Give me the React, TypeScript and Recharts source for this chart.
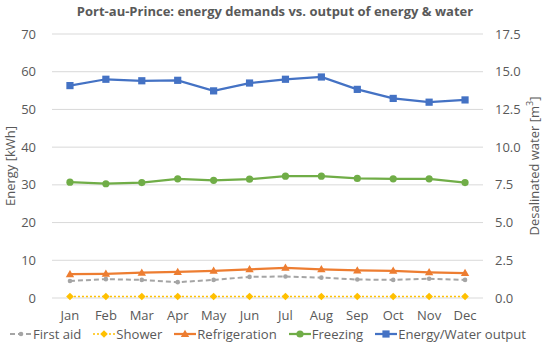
import { LineChart, Line, XAxis, YAxis, CartesianGrid } from "recharts";

const MONTHS = ["Jan", "Feb", "Mar", "Apr", "May", "Jun", "Jul", "Aug", "Sep", "Oct", "Nov", "Dec"];

// energy demands in kWh (left axis)
const FIRST_AID = [4.5, 5.0, 4.8, 4.2, 4.8, 5.6, 5.7, 5.4, 4.9, 4.8, 5.1, 4.8];
const SHOWER = [0.4, 0.4, 0.4, 0.4, 0.4, 0.4, 0.4, 0.4, 0.4, 0.4, 0.4, 0.4];
const REFRIGERATION = [6.3, 6.4, 6.7, 6.9, 7.2, 7.6, 8.0, 7.6, 7.3, 7.2, 6.8, 6.6];
const FREEZING = [30.7, 30.3, 30.6, 31.6, 31.2, 31.5, 32.3, 32.3, 31.7, 31.6, 31.6, 30.6];
// desalinated water output in m3 (right axis)
const OUTPUT = [14.08, 14.5, 14.4, 14.43, 13.73, 14.25, 14.5, 14.65, 13.83, 13.23, 12.98, 13.13];

const LEFT_TICKS = [0, 10, 20, 30, 40, 50, 60, 70];
const RIGHT_TICKS = [0, 2.5, 5, 7.5, 10, 12.5, 15, 17.5];

const data = MONTHS.map((m, i) => ({
  month: m,
  firstAid: FIRST_AID[i],
  shower: SHOWER[i],
  refrigeration: REFRIGERATION[i],
  freezing: FREEZING[i],
  output: OUTPUT[i],
}));

const FONT = "'Open Sans', sans-serif";
const TEXT = "#595959";

type Shape = "circle" | "smallCircle" | "diamond" | "triangle" | "square";

const SERIES: { key: string; name: string; color: string; width: number; dash?: string; shape: Shape; axis: string }[] = [
  { key: "firstAid", name: "First aid", color: "#A5A5A5", width: 2, dash: "5 3", shape: "smallCircle", axis: "left" },
  { key: "shower", name: "Shower", color: "#FFC000", width: 1.5, dash: "2 2", shape: "diamond", axis: "left" },
  { key: "refrigeration", name: "Refrigeration", color: "#ED7D31", width: 2.25, shape: "triangle", axis: "left" },
  { key: "freezing", name: "Freezing", color: "#70AD47", width: 2.25, shape: "circle", axis: "left" },
  { key: "output", name: "Energy/Water output", color: "#4472C4", width: 2.25, shape: "square", axis: "right" },
];

function Marker({ cx, cy, shape, color }: { cx: number; cy: number; shape: Shape; color: string }) {
  if (shape === "circle") return <circle cx={cx} cy={cy} r={3.6} fill={color} />;
  if (shape === "smallCircle") return <circle cx={cx} cy={cy} r={2.3} fill={color} />;
  if (shape === "square") return <rect x={cx - 3.6} y={cy - 3.6} width={7.2} height={7.2} fill={color} />;
  if (shape === "diamond")
    return <path d={`M${cx},${cy - 3.8}L${cx + 3.8},${cy}L${cx},${cy + 3.8}L${cx - 3.8},${cy}Z`} fill={color} />;
  return <path d={`M${cx},${cy - 4.3}L${cx + 4.2},${cy + 3}L${cx - 4.2},${cy + 3}Z`} fill={color} />;
}

function RightLabel(props: any) {
  const vb = props.viewBox || {};
  const x = vb.x + vb.width - 16;
  const y = vb.y + vb.height / 2;
  return (
    <text
      x={x}
      y={y}
      transform={`rotate(-90 ${x} ${y})`}
      textAnchor="middle"
      dominantBaseline="central"
      fill={TEXT}
      fontSize={13}
      fontFamily={FONT}
    >
      Desalinated water [m
      <tspan fontSize={9} dy={-5}>3</tspan>
      <tspan dy={5}>]</tspan>
    </text>
  );
}

export default function App() {
  const tick = { fill: TEXT, fontSize: 13, fontFamily: FONT };
  return (
    <div style={{ position: "absolute", left: 0, top: 0, width: 550, height: 344, background: "#fff" }}>
      <div
        style={{
          position: "absolute",
          top: 2,
          left: 0,
          width: 550,
          textAlign: "center",
          fontFamily: FONT,
          fontWeight: 700,
          fontSize: 13,
          color: TEXT,
        }}
      >
        Port-au-Prince: energy demands vs. output of energy &amp; water
      </div>
      <LineChart width={550} height={344} data={data} margin={{ top: 34, right: 0, bottom: 0, left: 0 }}>
        <CartesianGrid vertical={false} stroke="#D9D9D9" yAxisId="left" />
        <XAxis
          dataKey="month"
          scale="band"
          axisLine={false}
          tickLine={false}
          tick={tick}
          tickMargin={7}
          height={46}
        />
        <YAxis
          yAxisId="left"
          domain={[0, 70]}
          ticks={LEFT_TICKS}
          axisLine={false}
          tickLine={false}
          tick={tick}
          tickMargin={10}
          width={52}
          label={{
            value: "Energy [kWh]",
            angle: -90,
            position: "insideLeft",
            offset: 10,
            style: { textAnchor: "middle", fill: TEXT, fontSize: 13, fontFamily: FONT },
          }}
        />
        <YAxis
          yAxisId="right"
          orientation="right"
          domain={[0, 17.5]}
          ticks={RIGHT_TICKS}
          tickFormatter={(v: number) => v.toFixed(1)}
          axisLine={false}
          tickLine={false}
          tick={tick}
          tickMargin={6}
          width={67}
          label={<RightLabel />}
        />
        {SERIES.map((s) => (
          <Line
            key={s.key}
            yAxisId={s.axis}
            dataKey={s.key}
            name={s.name}
            stroke={s.color}
            strokeWidth={s.width}
            strokeDasharray={s.dash}
            isAnimationActive={false}
            dot={(p: any) => <Marker key={`${s.key}-${p.index}`} cx={p.cx} cy={p.cy} shape={s.shape} color={s.color} />}
            activeDot={false}
          />
        ))}
      </LineChart>
      <div
        style={{
          position: "absolute",
          top: 326,
          left: 10,
          display: "flex",
          gap: 12,
          fontFamily: FONT,
          fontSize: 13.1,
          lineHeight: "16px",
          color: TEXT,
          whiteSpace: "nowrap",
        }}
      >
        {SERIES.map((s) => (
          <div key={s.key} style={{ display: "flex", alignItems: "center" }}>
            <svg width={22} height={12} style={{ marginRight: 1 }}>
              <line x1={0} y1={6} x2={22} y2={6} stroke={s.color} strokeWidth={s.width} strokeDasharray={s.dash} />
              <Marker cx={11} cy={6} shape={s.shape} color={s.color} />
            </svg>
            <span>{s.name}</span>
          </div>
        ))}
      </div>
    </div>
  );
}
